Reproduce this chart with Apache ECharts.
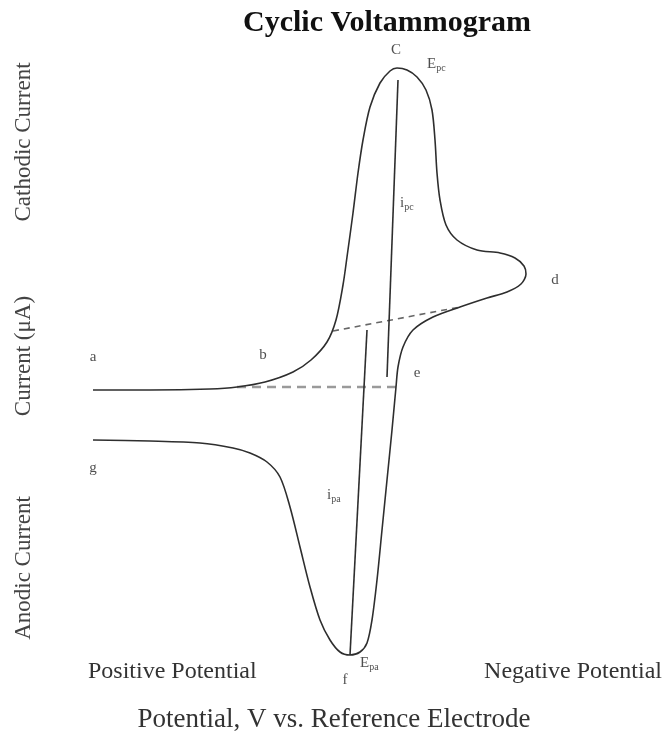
<!DOCTYPE html>
<html>
<head>
<meta charset="utf-8">
<script src="https://cdn.jsdelivr.net/npm/echarts@6/dist/echarts.min.js"></script>
<style>
html,body{margin:0;padding:0;background:#fff;}
#chart{width:667px;height:732px;}
</style>
</head>
<body>
<div id="chart"></div>
<script>
// Potential (V, schematic) and current (µA, schematic; cathodic positive) of the CV loop
const cvPotential = [0.594,0.480,0.360,0.306,0.250,0.194,0.158,0.126,0.108,0.094,0.086,0.074,0.064,0.054,0.040,0.020,0.000,-0.014,-0.034,-0.054,-0.072,-0.084,-0.090,-0.094,-0.100,-0.112,-0.134,-0.174,-0.220,-0.250,-0.268,-0.272,-0.262,-0.234,-0.194,-0.140,-0.086,-0.046,-0.026,-0.016,-0.012,-0.004,0.006,0.016,0.026,0.036,0.046,0.060,0.080,0.100,0.120,0.140,0.160,0.180,0.200,0.220,0.246,0.280,0.314,0.380,0.480,0.594];
const cvCurrent = [0.0,0.0,0.1,0.3,0.8,1.8,3.0,4.8,7.0,10.5,13.3,17.7,21.7,25.0,28.3,30.7,31.9,32.2,32.0,31.3,30.0,28.0,25.0,21.7,19.0,16.5,15.0,14.0,13.7,13.2,12.4,11.6,10.6,9.8,9.2,8.3,7.3,6.0,4.3,2.3,0.3,-4.0,-9.0,-14.0,-19.0,-23.0,-25.3,-26.2,-26.5,-26.2,-25.0,-23.0,-19.7,-15.7,-11.7,-8.7,-7.2,-6.3,-5.8,-5.3,-5.1,-5.0];

// Baselines (dashed) and peak-current lines
const cathodicBaseline = [[0.306,0.3],[-0.014,0.3]];
const anodicBaseline = [[0.114,5.9],[-0.140,8.3]];
const ipcLine = [[-0.016,31.0],[0.006,1.3]];
const ipaLine = [[0.046,6.0],[0.080,-26.5]];

// Point annotations: [potential, current, main text, subscript, align]
const pointLabels = [
  [-0.012, 34.0, 'C', '', 'center'],
  [-0.074, 32.6, 'E', 'pc', 'left'],
  [-0.020, 18.7, 'i', 'pc', 'left'],
  [-0.330, 11.0, 'd', '', 'center'],
  [0.594, 3.3, 'a', '', 'center'],
  [0.254, 3.5, 'b', '', 'center'],
  [-0.054, 1.7, 'e', '', 'center'],
  [0.594, -7.8, 'g', '', 'center'],
  [0.126, -10.5, 'i', 'pa', 'left'],
  [0.090, -29.0, 'f', '', 'center'],
  [0.060, -27.3, 'E', 'pa', 'left']
];

const titleText = 'Cyclic Voltammogram';
const xAxisTitle = 'Potential, V vs. Reference Electrode';
const xEndLabels = ['Positive Potential', 'Negative Potential'];
const yLabels = ['Cathodic Current', 'Current (\u03bcA)', 'Anodic Current'];

const SERIF = '"Liberation Serif", "DejaVu Serif", serif';
const cvData = cvPotential.map((e, k) => [e, cvCurrent[k]]);

const chart = echarts.init(document.getElementById('chart'));
const lineSeries = (data, style) => ({
  type: 'line', data: data, symbol: 'none', silent: true,
  lineStyle: style, z: 2
});

chart.setOption({
  animation: false,
  backgroundColor: '#fff',
  grid: {left: 90, width: 500, top: 40, height: 650},
  xAxis: {type: 'value', min: -0.4, max: 0.6, inverse: true, show: false},
  yAxis: {type: 'value', min: -30, max: 35, show: false},
  series: [
    {
      type: 'line', data: cvData, symbol: 'none', smooth: 0.3, silent: true,
      lineStyle: {color: '#2e2e2e', width: 1.6}, z: 3
    },
    lineSeries(cathodicBaseline, {color: '#9a9a9a', width: 2.5, type: [9, 6]}),
    lineSeries(anodicBaseline, {color: '#666', width: 1.6, type: [6, 5]}),
    lineSeries(ipcLine, {color: '#2e2e2e', width: 1.6}),
    lineSeries(ipaLine, {color: '#2e2e2e', width: 1.6}),
    {
      type: 'scatter', symbolSize: 0, silent: true, z: 5,
      data: pointLabels.map(p => ({
        value: [p[0], p[1]],
        label: {
          show: true, position: [0, 0], align: p[4], verticalAlign: 'middle',
          formatter: p[3] ? '{m|' + p[2] + '}{s|' + p[3] + '}' : '{m|' + p[2] + '}',
          rich: {
            m: {fontFamily: SERIF, fontSize: 15, color: '#222', lineHeight: 16},
            s: {fontFamily: SERIF, fontSize: 10, color: '#222', lineHeight: 10, padding: [9, 0, 0, 0]}
          }
        }
      }))
    }
  ],
  graphic: [
    {type: 'text', x: 387, y: 23, style: {text: titleText, font: 'bold 30px ' + SERIF, fill: '#111', align: 'center', verticalAlign: 'middle'}},
    {type: 'text', x: 88, y: 672, style: {text: xEndLabels[0], font: '24px ' + SERIF, fill: '#333', align: 'left', verticalAlign: 'middle'}},
    {type: 'text', x: 662, y: 672, style: {text: xEndLabels[1], font: '24px ' + SERIF, fill: '#333', align: 'right', verticalAlign: 'middle'}},
    {type: 'text', x: 334, y: 720, style: {text: xAxisTitle, font: '27px ' + SERIF, fill: '#333', align: 'center', verticalAlign: 'middle'}},
    {type: 'text', x: 24, y: 142, rotation: Math.PI / 2, style: {text: yLabels[0], font: '23px ' + SERIF, fill: '#444', align: 'center', verticalAlign: 'middle'}},
    {type: 'text', x: 24, y: 356, rotation: Math.PI / 2, style: {text: yLabels[1], font: '23px ' + SERIF, fill: '#444', align: 'center', verticalAlign: 'middle'}},
    {type: 'text', x: 24, y: 568, rotation: Math.PI / 2, style: {text: yLabels[2], font: '23px ' + SERIF, fill: '#444', align: 'center', verticalAlign: 'middle'}}
  ]
});
</script>
</body>
</html>
